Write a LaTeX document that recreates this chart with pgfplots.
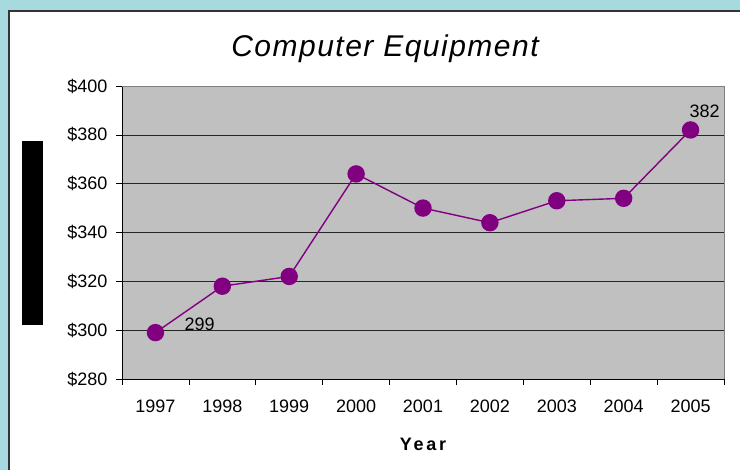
\documentclass[border=0pt]{standalone}
\usepackage{pgfplots}
\pgfplotsset{compat=1.18}
\usepackage{fontspec}
\setmainfont{Liberation Sans}
\definecolor{bgteal}{RGB}{166,218,222}
\definecolor{plotgray}{RGB}{192,192,192}
\definecolor{ptpurple}{RGB}{128,0,128}
\begin{document}
\begin{tikzpicture}[x=1bp,y=1bp]
\useasboundingbox (0,0) rectangle (740,470);
\fill[bgteal] (0,0) rectangle (740,470);
\fill[white] (8,0) rectangle (740,460);
\draw[line width=2bp, black!80] (9,0) -- (9,459) -- (740,459);
\fill[black] (22,145) rectangle (43,329);
\node[anchor=base, font=\fontsize{30bp}{33bp}\selectfont\itshape\addfontfeature{LetterSpace=5}] at (385,413) {Computer Equipment};
\begin{axis}[
  at={(122bp,91bp)}, anchor=south west,
  scale only axis, width=602bp, height=293bp,
  xmin=-0.5, xmax=8.5, ymin=280, ymax=400,
  axis x line*=bottom, axis y line*=left,
  axis line style={-, black, line width=0.8bp},
  axis background/.style={fill=plotgray},
  xtick={0,...,8},
  xticklabels={1997,1998,1999,2000,2001,2002,2003,2004,2005},
  major x tick style={draw=none},
  minor xtick={-0.5,0.5,...,8.5},
  minor tick length=6bp,
  major tick length=6bp,
  tick align=outside,
  tick style={black, line width=0.6bp},
  ytick={280,300,...,400},
  yticklabels={\$280,\$300,\$320,\$340,\$360,\$380,\$400},
  ymajorgrids,
  grid style={black!85, line width=0.6bp},
  ticklabel style={font=\fontsize{18bp}{20bp}\selectfont},
  xticklabel style={yshift=-11bp},
  yticklabel style={xshift=-5bp},
  xlabel={\addfontfeature{LetterSpace=15}\bfseries Year},
  xlabel style={at={(axis description cs:0.5,0)}, anchor=center, yshift=-65bp, font=\fontsize{18bp}{20bp}\selectfont},
  clip=false,
]
\addplot[color=ptpurple, line width=1.4bp, mark=*, mark size=8bp, mark options={fill=ptpurple, draw=ptpurple}]
  coordinates {(0,299) (1,318) (2,322) (3,364) (4,350) (5,344) (6,353) (7,354) (8,382)};
\draw[black!50, line width=0.8bp] (rel axis cs:0,1) -- (rel axis cs:1,1) -- (rel axis cs:1,0);
\node[anchor=west, inner sep=0, font=\fontsize{18bp}{20bp}\selectfont] at (axis cs:0,299) [xshift=29bp, yshift=8bp] {299};
\node[anchor=center, inner sep=0, font=\fontsize{18bp}{20bp}\selectfont] at (axis cs:8,382) [xshift=14bp, yshift=19bp] {382};
\end{axis}
\end{tikzpicture}
\end{document}
